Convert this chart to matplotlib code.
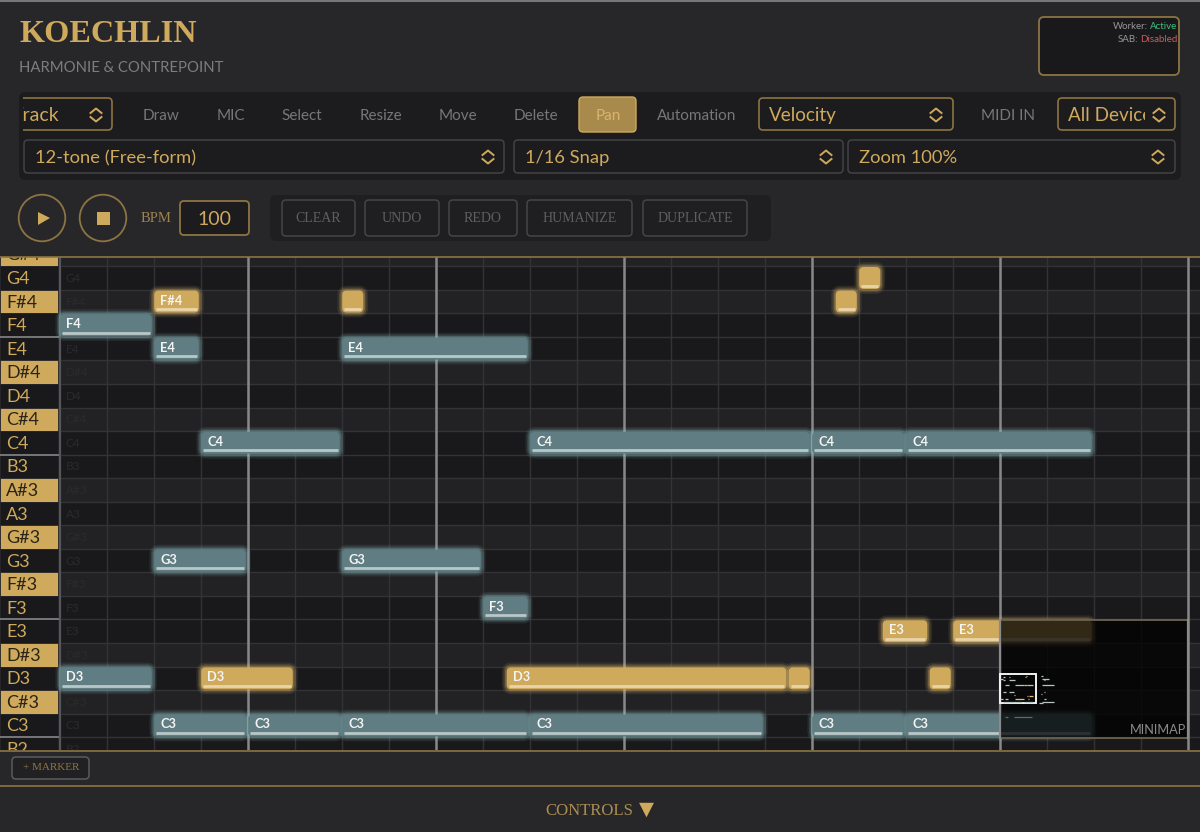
import matplotlib
matplotlib.use("Agg")
import matplotlib.pyplot as plt
from matplotlib.patches import FancyBboxPatch, Rectangle, Circle, Polygon

# ---------- data ----------
pitch_rows = ["G#4","G4","F#4","F4","E4","D#4","D4","C#4","C4","B3","A#3","A3",
              "G#3","G3","F#3","F3","E3","D#3","D3","C#3","C3","B2"]
teal_pitches = ["F4","E4","E4","C4","C4","C4","C4","G3","G3","F3","D3","C3","C3","C3","C3","C3","C3"]
teal_starts  = [0, 2, 6, 3, 10, 16, 18, 2, 6, 9, 0, 2, 4, 6, 10, 16, 18]
teal_lengths = [2, 1, 4, 3, 6, 2, 4, 2, 3, 1, 2, 2, 2, 4, 5, 2, 4]
gold_pitches = ["F#4","F#4","F#4","G4","E3","E3","D3","D3","D3","D3"]
gold_starts  = [2, 6, 16.5, 17, 17.5, 19, 3, 9.5, 15.5, 18.5]
gold_lengths = [1, 0.5, 0.5, 0.5, 1, 3, 2, 6, 0.5, 0.5]
gold_labeled = [True, False, False, False, True, True, True, True, False, False]
mini_extra_pitches = ["G4","F4","E4","C4","G3","D3","C3","F#3","B2"]
mini_extra_starts  = [27, 28, 29, 28, 29, 29, 28, 27, 26]
mini_extra_lengths = [2, 5, 1, 8, 1, 2, 8, 1, 3]
mini_low_starts = [3, 9]
mini_low_lengths = [2, 12]
bar_steps = [4, 8, 12, 16, 20, 24]

toolbar_labels = ["Draw","MIC","Select","Resize","Move","Delete","Automation","MIDI IN"]
toolbar_x = [161, 231, 302, 381, 458, 536, 697, 1008]
action_labels = ["CLEAR","UNDO","REDO","HUMANIZE","DUPLICATE"]
action_left = [282, 365, 449, 527, 643]
action_right = [355, 439, 517, 632, 747]

GOLD = "#cfa95c"; GOLD_LINE = "#8d7442"; BG = "#27272a"; PANEL = "#1c1c1e"
TEAL = "#5f7d82"; DARK = "#19191b"; MID = "#222224"; GRID = "#333335"
W, H = 1200, 832
plt.rcParams["font.family"] = ["Lato", "DejaVu Sans"]
SERIF = ["Liberation Serif", "DejaVu Sans"]

fig = plt.figure(figsize=(12, 8.32), dpi=100, facecolor=BG)

def px_axes(z):
    a = fig.add_axes([0, 0, 1, 1], zorder=z)
    a.set_xlim(0, W); a.set_ylim(H, 0); a.axis("off")
    a.patch.set_alpha(0)
    return a

ui = px_axes(0)
over = px_axes(3)

def box(a, x0, y0, x1, y1, fc="none", ec="none", lw=1.0, r=4, z=2, alpha=None):
    p = FancyBboxPatch((x0 + r, y0 + r), x1 - x0 - 2*r, y1 - y0 - 2*r,
                       boxstyle=f"round,pad={r},rounding_size={r}",
                       fc=fc, ec=ec, lw=lw, zorder=z, alpha=alpha)
    a.add_patch(p)
    return p

def chevrons(a, cx, cy, color=GOLD):
    a.plot([cx-5.5, cx, cx+5.5], [cy-2, cy-6.5, cy-2], color=color, lw=1.4, zorder=5)
    a.plot([cx-5.5, cx, cx+5.5], [cy+2, cy+6.5, cy+2], color=color, lw=1.4, zorder=5)

# ---------- header ----------
ui.plot([0, W], [0.5, 0.5], color="#77777a", lw=1.5)
ui.text(19.5, 34, "KOECHLIN", color=GOLD, fontsize=23.2, family=SERIF, weight="bold", va="center")
ui.text(19, 68.5, "HARMONIE & CONTREPOINT", color="#7d7d80", fontsize=10.7, va="center")
box(ui, 1039, 17, 1179, 75, fc=DARK, ec=GOLD_LINE, lw=1.3, r=5)
ui.text(1148, 26.5, "Worker:", color="#979799", fontsize=7, ha="right", va="center")
ui.text(1150, 26.5, "Active", color="#3fbf80", fontsize=7, ha="left", va="center")
ui.text(1138, 39.5, "SAB:", color="#979799", fontsize=7, ha="right", va="center")
ui.text(1140, 39.5, "Disabled", color="#cc5c60", fontsize=7, ha="left", va="center")

# ---------- toolbar ----------
box(ui, 19, 92, 1181, 180, fc=PANEL, r=7, z=1)
clip_track = Rectangle((22.5, 90), 100, 45, transform=ui.transData)
track_box = box(ui, 8, 98, 112, 130, fc=PANEL, ec=GOLD_LINE, lw=1.2, r=4)
track_box.set_clip_path(clip_track)
t = ui.text(12, 115.5, "Track", color=GOLD, fontsize=14, va="center", zorder=4, clip_on=True)
t.set_clip_path(Rectangle((22.5, 98), 80, 32, transform=ui.transData))
chevrons(ui, 96, 115)
for lab, x in zip(toolbar_labels, toolbar_x):
    ui.text(x, 115.5, lab, color="#77777a", fontsize=11, ha="center", va="center")
box(ui, 579, 97, 636, 132, fc="#a88a4d", ec=GOLD, lw=1.0, r=4)
ui.text(608, 115.5, "Pan", color="#d8b56a", fontsize=11, ha="center", va="center", zorder=4)
box(ui, 759, 98, 953, 130, fc=PANEL, ec=GOLD_LINE, lw=1.2, r=4)
ui.text(769, 115.5, "Velocity", color=GOLD, fontsize=13.6, va="center", zorder=4)
chevrons(ui, 936, 115)
box(ui, 1058, 98, 1175, 130, fc=PANEL, ec=GOLD_LINE, lw=1.2, r=4)
t = ui.text(1068, 115.5, "All Devices", color=GOLD, fontsize=13.6, va="center", zorder=4, clip_on=True)
t.set_clip_path(Rectangle((1060, 98), 85, 32, transform=ui.transData))
chevrons(ui, 1159, 115)
for x0, x1, lab, cx in [(24, 504, "12-tone (Free-form)", 488),
                        (514, 843, "1/16 Snap", 826),
                        (848, 1175, "Zoom 100%", 1158)]:
    box(ui, x0, 140, x1, 173, fc=PANEL, ec="#434345", lw=1.1, r=4)
    ui.text(x0 + 11, 163, lab, color=GOLD, fontsize=13.2, va="baseline", zorder=4)
    chevrons(ui, cx, 157)

# ---------- transport ----------
for cx in (42, 103):
    ui.add_patch(Circle((cx, 218), 23.3, fc="none", ec=GOLD_LINE, lw=1.3))
ui.add_patch(Polygon([[38, 212], [50, 218], [38, 225]], fc=GOLD, ec="none"))
ui.add_patch(Rectangle((97, 212), 13, 13, fc=GOLD, ec="none"))
ui.text(156, 219, "BPM", color="#9c8350", fontsize=10.5, family=SERIF, ha="center", va="center")
box(ui, 180, 201, 249, 235, fc=PANEL, ec=GOLD_LINE, lw=1.3, r=4)
ui.text(214, 219.5, "100", color=GOLD, fontsize=14, ha="center", va="center", zorder=4)
box(ui, 270, 195, 771, 241, fc="#1f1f21", r=6, z=1)
for lab, x0, x1 in zip(action_labels, action_left, action_right):
    box(ui, x0, 200, x1, 236, fc="#1f1f21", ec="#454547", lw=1.1, r=4)
    ui.text((x0 + x1) / 2, 218, lab, color="#5f5f61", fontsize=10, family=SERIF,
            ha="center", va="center", zorder=4)

# ---------- piano roll: steps on x, row index on y ----------
STEP = 47.0; ROW = 23.55
roll = fig.add_axes([0, (H - 750) / H, 1, (750 - 257) / H], zorder=1)
roll.set_xlim(-60 / STEP, (W - 60) / STEP)
roll.set_ylim(1 + (750 - 278) / ROW, 1 + (257 - 278) / ROW)
roll.axis("off")
row_of = {n: i for i, n in enumerate(pitch_rows)}
xmax = (W - 60) / STEP
key_right = -2 / STEP

for i, n in enumerate(pitch_rows):
    sharp = "#" in n
    roll.add_patch(Rectangle((0, i - .5), xmax, 1, fc=MID if sharp else DARK, ec="none", zorder=0))
    roll.add_patch(Rectangle((-60 / STEP, i - .5), 58 / STEP, 1,
                             fc=GOLD if sharp else DARK, ec=BG, lw=.6, zorder=1))
    roll.text(-54 / STEP, i + 1 / ROW, n, color="#2a2418" if sharp else GOLD, fontsize=13, va="center", zorder=2,
              clip_on=True)
    roll.text(6 / STEP, i + .5 / ROW, n, color="#2b2b2d", fontsize=8.5, va="center", zorder=1, clip_on=True)
    roll.plot([0, xmax], [i - .5, i - .5], color=GRID, lw=1, zorder=1)
    if n in ("E4", "B3", "E3", "B2"):
        roll.plot([-60 / STEP, key_right], [i - .5, i - .5], color="#77777a", lw=1.4, zorder=3)

for s in range(0, 25):
    roll.plot([s, s], [-1, 23], color=GRID, lw=1, zorder=1)
for s in bar_steps:
    roll.plot([s, s], [-1, 23], color="#88888a", lw=1.8, zorder=2)
roll.plot([0, 0], [-1, 23], color="#55555a", lw=1.5, zorder=2)

ASPECT = STEP / ROW

def note(start, length, name, fc, glow, label):
    x = start + 0.2 / STEP
    w = length - 2.4 / STEP
    c = row_of[name]
    h = 22 / ROW
    r = 4.5 / STEP
    y = c - h / 2
    kw = dict(boxstyle=f"round,pad=0,rounding_size={r}", mutation_aspect=ASPECT)
    for lw, a in ((7, .10), (4.5, .16), (2.5, .25)):
        roll.add_patch(FancyBboxPatch((x, y), w, h, fc="none", ec=glow, lw=lw, alpha=a, zorder=4, **kw))
    roll.add_patch(FancyBboxPatch((x, y), w, h, fc=fc, ec="none", zorder=5, **kw))
    roll.plot([x + 2 / STEP, x + w - 2 / STEP], [c + 7.5 / ROW] * 2, color="#c9d5d5" if fc == TEAL else "#eeddb8",
              lw=2, alpha=.85, zorder=6, solid_capstyle="butt")
    if label:
        roll.text(x + 6 / STEP, c - 1 / ROW, name, color="#f4f4f2", fontsize=9.3, weight="bold",
                  va="center", zorder=7)

for n, s, l in zip(teal_pitches, teal_starts, teal_lengths):
    note(s, l, n, TEAL, "#8fc0c4", True)
for n, s, l, lb in zip(gold_pitches, gold_starts, gold_lengths, gold_labeled):
    note(s, l, n, GOLD, "#e8c070", lb)

# ---------- minimap + footer ----------
over.add_patch(Rectangle((1000, 620), 188, 118, fc="#000000", ec="none", alpha=.76, zorder=1))
over.add_patch(Rectangle((1000, 620), 188, 118, fc="none", ec="#6b6350", lw=1.3, zorder=2))
over.plot([1000, 1000], [620, 738], color="#8a8a8a", lw=1.6, zorder=2)
over.plot([1188, 1188], [620, 738], color="#8a8a8a", lw=1.6, zorder=2)
mini = fig.add_axes([1000 / W, (H - 738) / H, 188 / W, 118 / H], zorder=4)
mini.set_xlim(-0.5 / 1.5, 188 / 1.5)
mini.set_ylim(1 + (738 - 676) / 1.35, 1 + (620 - 676) / 1.35)
mini.axis("off"); mini.patch.set_alpha(0)
for n, s, l in zip(teal_pitches + mini_extra_pitches, teal_starts + mini_extra_starts, teal_lengths + mini_extra_lengths):
    mini.plot([s, s + l - .3], [row_of[n]] * 2, color="#b7c4c4", lw=.9, solid_capstyle="butt")
for n, s, l in zip(gold_pitches, gold_starts, gold_lengths):
    mini.plot([s, s + l - .1], [row_of[n]] * 2, color="#e2bf78", lw=.9, solid_capstyle="butt")
for s, l in zip(mini_low_starts, mini_low_lengths):
    mini.plot([s, s + l], [31.4, 31.4], color="#5d6a6a", lw=.9, solid_capstyle="butt")
over.add_patch(Rectangle((1000, 674), 36, 29, fc="none", ec="#f2f2f2", lw=1.4, zorder=5))
over.text(1186, 730, "MINIMAP", color="#8a8a8c", fontsize=9.2, ha="right", va="center", zorder=6)

over.add_patch(Rectangle((0, 750), W, H - 750, fc=BG, ec="none", zorder=1))
over.plot([0, W], [750.5, 750.5], color=GOLD_LINE, lw=1.2, zorder=2)
over.plot([0, W], [785.5, 785.5], color=GOLD_LINE, lw=1.2, zorder=2)
over.plot([0, W], [256.5, 256.5], color=GOLD_LINE, lw=1.2, zorder=2)
box(over, 12, 757, 89, 779, fc="#212123", ec="#5b5b5d", lw=1.1, r=4, z=3)
over.text(51, 768, "+ MARKER", color="#8d7442", fontsize=8, family=SERIF, ha="center", va="center", zorder=4)
over.text(633, 811, "CONTROLS", color="#a98c52", fontsize=12.1, family=SERIF, ha="right", va="center", zorder=4)
over.text(646, 809, "▼", color=GOLD, fontsize=14, family=["DejaVu Sans"], ha="center", va="center", zorder=4)

fig.savefig("out.png", dpi=100, facecolor=BG)
